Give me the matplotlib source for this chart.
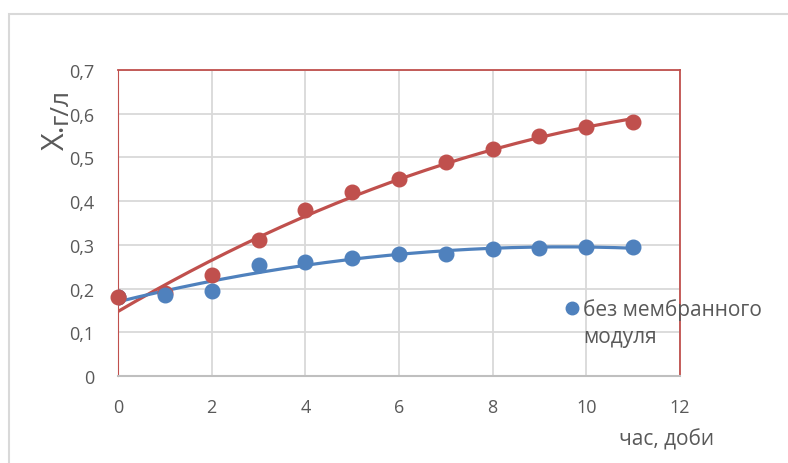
import numpy as np
import matplotlib.pyplot as plt
from matplotlib.patches import Rectangle
from matplotlib.lines import Line2D

plt.rcParams['font.family'] = ['Open Sans', 'DejaVu Sans']

# data
days = [0, 1, 2, 3, 4, 5, 6, 7, 8, 9, 10, 11]
x_red = [0.18, 0.19, 0.23, 0.31, 0.38, 0.42, 0.45, 0.49, 0.52, 0.55, 0.57, 0.58]
x_blue = [0.18, 0.185, 0.195, 0.255, 0.26, 0.27, 0.28, 0.28, 0.29, 0.293, 0.295, 0.295]

x_ticks = [0, 2, 4, 6, 8, 10, 12]
y_ticks = [0, 0.1, 0.2, 0.3, 0.4, 0.5, 0.6, 0.7]
legend_label = ['без мембранного', 'модуля']

red = '#C0504D'
blue = '#4F81BD'
txt = '#595959'

W, H = 788, 464
fig = plt.figure(figsize=(W / 100, H / 100), dpi=100)
# outer chart border
fig.patches.append(Rectangle((9 / W, -0.1), 1.2, 1 - 15 / H + 0.1,
                             transform=fig.transFigure, fill=False,
                             edgecolor='#D9D9D9', linewidth=1.5))
ax = fig.add_axes([118 / W, 1 - 377 / H, (680 - 118) / W, (377 - 71) / H])

# polynomial trend lines (order 2)
xx = np.linspace(0, 11, 200)
p_red = np.polyfit(days, x_red, 2)
p_blue = np.polyfit(days, x_blue, 2)
ax.plot(xx, np.polyval(p_red, xx), color=red, lw=2.3, zorder=3)
ax.plot(xx, np.polyval(p_blue, xx), color=blue, lw=2.3, zorder=3)

ax.plot(days, x_red, 'o', color=red, ms=10.5, zorder=4)
ax.plot(days, x_blue, 'o', color=blue, ms=10.5, zorder=5)
# first red point sits on top of the blue one
ax.plot(days[:1], x_red[:1], 'o', color=red, ms=10.5, zorder=6, clip_on=False)

ax.set_xlim(0, 12)
ax.set_ylim(0, 0.7)
ax.set_xticks(x_ticks)
ax.set_yticks(y_ticks)
ax.set_yticklabels(['0' if v == 0 else f'{v:.1f}'.replace('.', ',') for v in y_ticks])
ax.tick_params(length=0, labelsize=13, colors=txt)
ax.tick_params(axis='y', pad=17)
ax.tick_params(axis='x', pad=16)
ax.grid(True, color='#D9D9D9', lw=1.3)
ax.set_axisbelow(True)
for s in ['top', 'right', 'left']:
    ax.spines[s].set_color(red)
    ax.spines[s].set_linewidth(1.3)
ax.spines['left'].set_linewidth(0.8)
ax.spines['bottom'].set_color('#BFBFBF')
ax.spines['bottom'].set_linewidth(1.5)

# axis titles
fig.text(56 / W, 1 - 137 / H, 'X.', rotation=90, fontsize=22,
         color=txt, ha='center', va='center')
fig.text(60 / W, 1 - 106 / H, 'г/л', rotation=90, fontsize=19,
         color=txt, ha='center', va='center')
fig.text(667 / W, 1 - 440 / H, 'час, доби', fontsize=15,
         color=txt, ha='center', va='center')

# legend (blue series only)
fig.add_artist(Line2D([572 / W], [1 - 309 / H], marker='o', color=blue,
                      ms=9, transform=fig.transFigure))
fig.text(583 / W, 1 - 310 / H, legend_label[0], fontsize=15, color=txt,
         ha='left', va='center')
fig.text(583 / W, 1 - 338 / H, legend_label[1], fontsize=15, color=txt,
         ha='left', va='center')

fig.savefig('out.png', dpi=100)
